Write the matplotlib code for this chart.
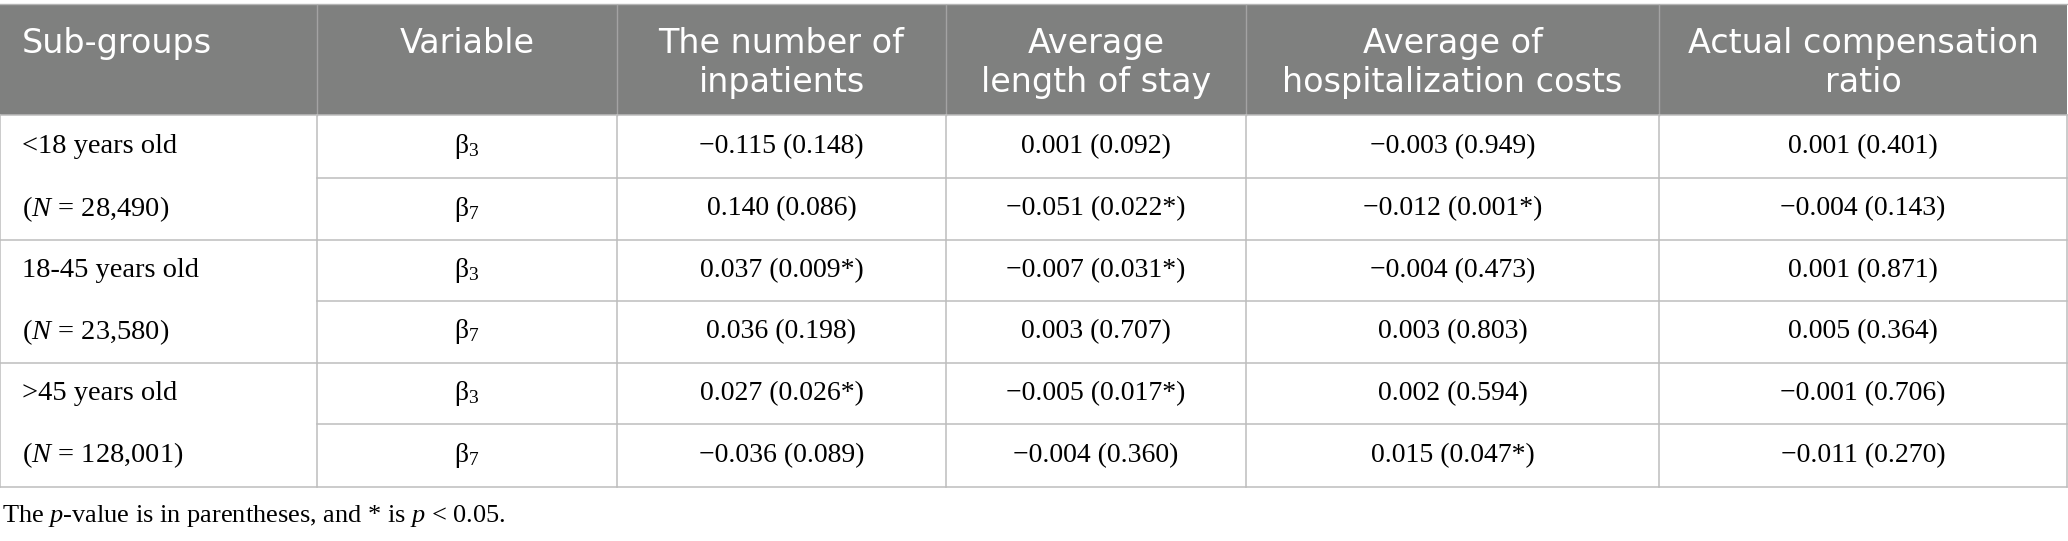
import matplotlib
matplotlib.use("Agg")
import matplotlib.pyplot as plt
from matplotlib.patches import Rectangle

# table contents
headers = [["Sub-groups"], ["Variable"], ["The number of", "inpatients"],
           ["Average", "length of stay"], ["Average of", "hospitalization costs"],
           ["Actual compensation", "ratio"]]
groups = ["<18 years old", "18-45 years old", ">45 years old"]
group_n = ["28,490", "23,580", "128,001"]
variables = ["3", "7"]  # beta subscripts

inpatients_coef = [-0.115, 0.140, 0.037, 0.036, 0.027, -0.036]
inpatients_p = [0.148, 0.086, 0.009, 0.198, 0.026, 0.089]
stay_coef = [0.001, -0.051, -0.007, 0.003, -0.005, -0.004]
stay_p = [0.092, 0.022, 0.031, 0.707, 0.017, 0.360]
costs_coef = [-0.003, -0.012, -0.004, 0.003, 0.002, 0.015]
costs_p = [0.949, 0.001, 0.473, 0.803, 0.594, 0.047]
ratio_coef = [0.001, -0.004, 0.001, 0.005, -0.001, -0.011]
ratio_p = [0.401, 0.143, 0.871, 0.364, 0.706, 0.270]

footnote = r"The $\mathit{p}$-value is in parentheses, and * is $\mathit{p}$ < 0.05."

# layout (pixels)
W, H = 2068, 541
col_edges = [0, 317, 617, 946, 1246, 1659, 2067]
head_top, head_bot = 5, 115
row_edges = [115, 178, 240, 301, 363, 424, 487]
pad = 22

header_gray = "#7f807f"
line_gray = "#bdbdbd"

plt.rcParams["mathtext.fontset"] = "custom"
plt.rcParams["mathtext.rm"] = "Liberation Serif"
plt.rcParams["mathtext.it"] = "Liberation Serif:italic"
plt.rcParams["mathtext.default"] = "regular"

sans = "DejaVu Sans"
serif = "Liberation Serif"
head_size = 24
body_size = 20
label_size = 20.5
note_size = 19


def cell(coef, p):
    s = f"{coef:.3f} ({p:.3f}{'*' if p < 0.05 else ''})"
    return s.replace("-", "\u2212")


fig = plt.figure(figsize=(W / 100, H / 100), dpi=100)
ax = fig.add_axes([0, 0, 1, 1])
ax.set_xlim(0, W)
ax.set_ylim(H, 0)
ax.axis("off")

# header
ax.add_patch(Rectangle((0, head_top), col_edges[-1], head_bot - head_top,
                       facecolor=header_gray, edgecolor="none"))
ax.plot([0, col_edges[-1]], [head_top - 1, head_top - 1], color="#b5b5b5", lw=1)
for x in col_edges[1:-1]:
    ax.plot([x, x], [head_top, head_bot], color="#a3a3a3", lw=1)

for i, lines in enumerate(headers):
    x0, x1 = col_edges[i], col_edges[i + 1]
    if i == 0:
        x, ha = x0 + pad, "left"
    else:
        x, ha = (x0 + x1) / 2, "center"
    for k, t in enumerate(lines):
        ax.text(x, 53 + 39 * k, t, ha=ha, va="baseline", color="white",
                fontsize=head_size, family=sans)

# body grid
lw = 1.1
for x in [col_edges[0], col_edges[-1]] + col_edges[1:-1]:
    ax.plot([x, x], [row_edges[0], row_edges[-1]], color=line_gray, lw=lw)
for j, y in enumerate(row_edges):
    x_start = col_edges[0] if j % 2 == 0 else col_edges[1]
    ax.plot([x_start, col_edges[-1]], [y, y], color=line_gray, lw=lw)

columns = [(inpatients_coef, inpatients_p), (stay_coef, stay_p),
           (costs_coef, costs_p), (ratio_coef, ratio_p)]

for r in range(6):
    yc = (row_edges[r] + row_edges[r + 1]) / 2
    ax.text((col_edges[1] + col_edges[2]) / 2, yc,
            "\u03b2$_{" + variables[r % 2] + "}$", ha="center", va="center",
            fontsize=body_size, family=serif)
    for c, (coef, p) in enumerate(columns):
        ax.text((col_edges[c + 2] + col_edges[c + 3]) / 2, yc, cell(coef[r], p[r]),
                ha="center", va="center", fontsize=body_size, family=serif)

for g in range(3):
    y1 = (row_edges[2 * g] + row_edges[2 * g + 1]) / 2
    y2 = (row_edges[2 * g + 1] + row_edges[2 * g + 2]) / 2
    ax.text(pad, y1, groups[g], ha="left", va="center", fontsize=label_size, family=serif)
    ax.text(pad, y2, r"($\mathit{N}$ = " + group_n[g] + ")", ha="left", va="center",
            fontsize=label_size, family=serif)

ax.text(2, 516, footnote, ha="left", va="center", fontsize=note_size, family=serif)

fig.savefig("out.png", dpi=100)
